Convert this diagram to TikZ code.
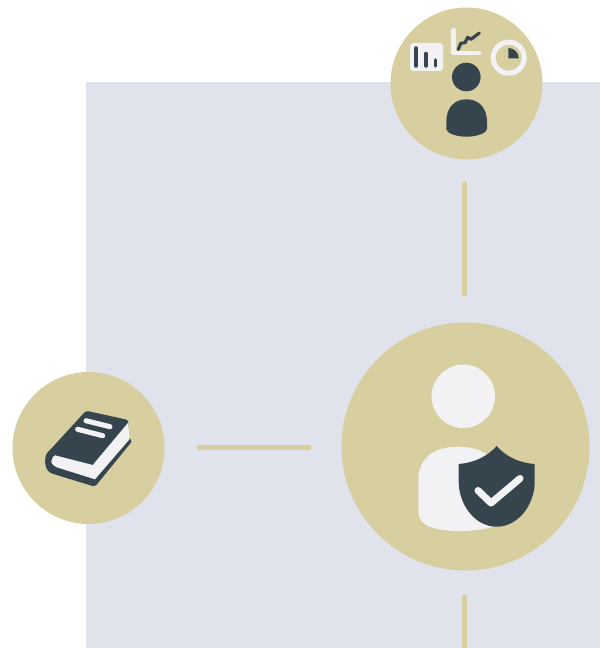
\documentclass[tikz,border=0pt]{standalone}
\definecolor{sand}{HTML}{D8CFA0}
\definecolor{panel}{HTML}{E0E3EB}
\definecolor{ink}{HTML}{36444D}
\definecolor{paper}{HTML}{F2F2F4}
\tikzset{
  disc/.style={circle,fill=sand,inner sep=0pt,minimum size=#1*0.02cm},
  link/.style={draw=sand,line width=2.85pt},
  inkfill/.style={fill=ink,draw=none},
  paperfill/.style={fill=paper,draw=none}
}
\begin{document}
\begin{tikzpicture}[x=0.02cm,y=-0.02cm]
\useasboundingbox (0,0) rectangle (600,648);
\fill[panel] (86,82) rectangle (600,648);
% discs and connectors
\node[disc=152] (top) at (466.5,83.5) {};
\node[disc=152] (left) at (88.5,448) {};
\node[disc=248] (main) at (465.5,446.5) {};
\coordinate (t1) at (464.5,182);
\coordinate (t2) at (464.5,296);
\coordinate (l1) at (197,447);
\coordinate (l2) at (311,447);
\coordinate (b1) at (464.5,595);
\coordinate (b2) at (464.5,648);
\draw[link] (t1) -- (t2);
\draw[link] (l1) -- (l2);
\draw[link] (b1) -- (b2);
% top icon
\fill[paperfill,rounded corners=1.8pt] (410,43) rectangle (443,71);
\draw[ink,line width=2pt,line cap=round] (416,48) -- (416,66);
\draw[ink,line width=2pt,line cap=round] (426,53.5) -- (426,66);
\draw[ink,line width=2pt,line cap=round] (435.5,60) -- (435.5,66);
\draw[paper,line width=2.5pt,line cap=round,line join=round] (453.5,30) -- (453.5,53) -- (479,53);
\draw[ink,line width=1.8pt,line cap=round,line join=round] (458.3,49.5) -- (460.7,43.3) -- (465,42.7) -- (467.7,37.3) -- (471,39.3) -- (479.3,33);
\draw[paper,line width=2.9pt] (508.7,57.7) circle (15.5);
\fill[inkfill] (508.3,58.3) -- (508.3,48) arc[start angle=-90,end angle=0,radius=10.5] -- cycle;
\fill[inkfill] (466.3,77) circle (14.3);
\fill[inkfill] (446.3,122) .. controls (446.3,108) and (454,99.3) .. (466.5,99.3)
  .. controls (479,99.3) and (487,108) .. (487,122) -- (487,129)
  .. controls (487,133) and (477,136.7) .. (466.5,136.7)
  .. controls (456,136.7) and (446.3,133) .. (446.3,129) -- cycle;
% book icon
\fill[inkfill,rounded corners=1.5pt] (86,410.7) -- (128.3,420) -- (128.5,438.5) -- (132.5,440.7) -- (95,486.7) -- (53.3,474)
  .. controls (46,471) and (45,464) .. (45.3,458.3) .. controls (46,454) and (48,452) .. (50,450) -- cycle;
\fill[paperfill] (128.3,422.5) -- (129.5,439.3) -- (95,479.3) -- (56.7,467.3)
  .. controls (52,465) and (50.5,462) .. (51.7,460) .. controls (52,457.5) and (53.5,456) .. (55,455.3) -- (92.7,465) -- cycle;
\draw[paper,line width=2.9pt,line cap=round] (86,420.7) -- (110,426.7);
\draw[paper,line width=2.9pt,line cap=round] (77.7,429.3) -- (102.7,435.7);
% main icon
\fill[paperfill] (463.3,396.3) circle (31.7);
\fill[paperfill] (418.3,480) .. controls (418.3,460) and (432,446.7) .. (458,446.7)
  .. controls (484,446.7) and (500,460) .. (500,480) -- (500,520)
  .. controls (500,526) and (484,531) .. (460,531)
  .. controls (436,531) and (418.3,526) .. (418.3,512) -- cycle;
\fill[inkfill] (496.7,446) .. controls (488,456) and (474,463) .. (458.7,464)
  -- (458.7,482) .. controls (459,505) and (475,526.7) .. (496.7,526.7)
  .. controls (518,526.7) and (534.5,505) .. (534.7,482) -- (534.7,464)
  .. controls (519,463) and (505,456) .. (496.7,446) -- cycle;
\draw[paper,line width=4pt,line cap=round,line join=round] (478,490.5) -- (491,503) -- (520,478.5);
\end{tikzpicture}
\end{document}
